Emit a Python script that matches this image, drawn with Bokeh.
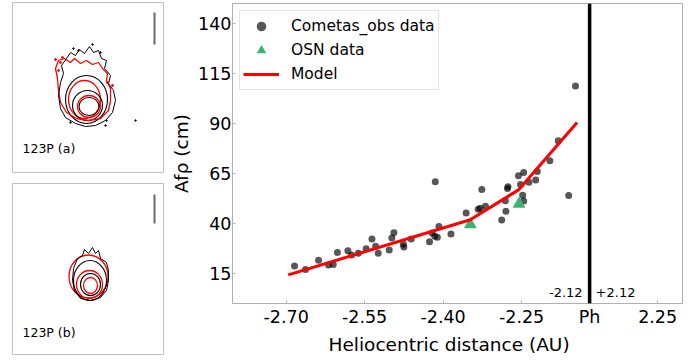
from bokeh.plotting import figure
from bokeh.models import Range1d, FixedTicker, Span, Legend, LegendItem, Label, Title
from bokeh.layouts import row, column
from bokeh.embed import file_html
from bokeh.resources import INLINE
from bokeh.core.properties import value

FONT = "DejaVu Sans"

# ---------------- main chart data ----------------
obs_dist = [-2.684, -2.663, -2.638, -2.619, -2.610, -2.602, -2.582, -2.575, -2.562, -2.547,
            -2.536, -2.529, -2.524, -2.503, -2.498, -2.494, -2.476, -2.475, -2.461, -2.426,
            -2.421, -2.416, -2.411, -2.408, -2.415, -2.385, -2.356, -2.333, -2.319, -2.326,
            -2.288, -2.280, -2.281, -2.276, -2.256, -2.246, -2.252, -2.236, -2.223, -2.220,
            -2.248, -2.246, -2.196, -2.180, -2.160, -2.147, -2.277, -2.329]
obs_afrho = [18.8, 17.0, 21.6, 19.3, 19.5, 25.5, 26.4, 24.2, 25.1, 27.4,
             32.2, 28.6, 25.1, 26.7, 32.8, 35.4, 29.6, 28.2, 32.2, 30.9,
             35.2, 33.6, 33.1, 38.5, 60.9, 34.7, 45.2, 47.1, 48.6, 57.0,
             41.7, 46.1, 51.4, 58.4, 63.9, 65.5, 59.5, 60.6, 61.8, 66.0,
             54.1, 51.2, 71.4, 81.4, 54.0, 108.8, 57.5, 47.6]

osn_dist = [-2.348, -2.255]
osn_afrho = [39.5, 49.7]

model_dist = [-2.696, -2.348, -2.256, -2.144]
model_afrho = [14.3, 41.9, 56.8, 90.5]

perihelion = -2.12
x_tick_values = [-2.70, -2.55, -2.40, -2.25, -2.12, -1.99]
x_tick_labels = ["-2.70", "-2.55", "-2.40", "-2.25", "Ph", "2.25"]
y_tick_values = [15, 40, 65, 90, 115, 140]

# ---------------- contour panels data (image pixel coords) ----------------
a_black_outer_x = [115, 112, 105, 95, 85, 75, 65, 60, 58, 60, 63, 61, 66, 70, 75, 79, 84, 89, 93, 98, 101, 106, 104, 110, 108, 113, 115]
a_black_outer_y = [100, 112, 120, 125, 126, 123, 117, 108, 95, 82, 73, 65, 58, 52, 55, 49, 53, 46, 52, 50, 58, 60, 68, 75, 83, 90, 100]
a_red_outer_x = [110, 108, 100, 88, 76, 66, 60, 58, 57, 55, 58, 64, 70, 74, 80, 86, 92, 98, 102, 107, 106, 110, 110]
a_red_outer_y = [100, 110, 118, 120, 118, 112, 102, 90, 78, 68, 60, 58, 62, 58, 63, 60, 64, 62, 68, 73, 80, 88, 100]
a_black_ell = dict(x=[88.5, 87, 86], y=[106, 105, 99], w=[20, 30, 42], h=[18, 30, 48])
a_red_ell = dict(x=[88.5, 84], y=[106, 99], w=[23, 32], h=[22, 38])
a_red_specks_x = [55, 60, 58, 107, 112, 62]
a_red_specks_y = [59, 62, 70, 82, 85, 57]
a_black_specks_x = [73, 78, 92, 100, 106, 105, 135, 70]
a_black_specks_y = [48, 50, 44, 52, 120, 125, 120, 122]

b_black_outer_x = [108, 106, 100, 90, 80, 74, 72, 73, 77, 82, 84, 88, 92, 95, 98, 100, 106, 108, 108]
b_black_outer_y = [280, 290, 297, 300, 298, 290, 280, 268, 258, 255, 249, 253, 247, 253, 250, 258, 262, 270, 280]
b_black_ell = dict(x=[90, 89.5], y=[284, 280], w=[20, 33], h=[22, 40])
b_red_ell = dict(x=[90, 89, 88], y=[285, 284, 276], w=[14, 26, 39], h=[16, 28, 43])


def make_panel(height, top, bottom, yr, label, label_y, bar_y0, bar_y1,
               black_x, black_y, black_ell, red_ell, red_x=None, red_y=None,
               rs_x=None, rs_y=None, bs_x=None, bs_y=None):
    f = figure(width=168, height=height, x_range=Range1d(12, 163), y_range=Range1d(*yr),
               x_axis_type=None, y_axis_type=None, output_backend="svg",
               toolbar_location=None, min_border_left=12, min_border_right=5,
               min_border_top=top, min_border_bottom=bottom)
    f.outline_line_color = "#bfbfbf"
    f.outline_line_width = 1
    f.background_fill_color = "white"
    f.ellipse(x=red_ell["x"], y=red_ell["y"], width=red_ell["w"], height=red_ell["h"],
              fill_color=None, line_color="red", line_width=1.3)
    f.ellipse(x=black_ell["x"], y=black_ell["y"], width=black_ell["w"], height=black_ell["h"],
              fill_color=None, line_color="black", line_width=1.1)
    if red_x is not None:
        f.line(red_x, red_y, line_color="red", line_width=1.3)
    f.line(black_x, black_y, line_color="black", line_width=1.0)
    if rs_x is not None:
        f.scatter(rs_x, rs_y, size=2, color="red")
    if bs_x is not None:
        f.scatter(bs_x, bs_y, size=1.5, color="black")
    f.segment(x0=[154], y0=[bar_y0], x1=[154], y1=[bar_y1], line_color="#6b6b6b", line_width=2)
    f.text(x=[22], y=[label_y], text=[label], text_font=value(FONT), text_font_size="12.5px",
           text_baseline="middle", text_align="left", text_color="black")
    return f


pa = make_panel(182, 2, 10, (172, 2), "123P (a)", 148, 12, 44,
                a_black_outer_x, a_black_outer_y, a_black_ell, a_red_ell,
                a_red_outer_x, a_red_outer_y, a_red_specks_x, a_red_specks_y,
                a_black_specks_x, a_black_specks_y)
pb = make_panel(174, 1, 2, (354, 183), "123P (b)", 332, 194, 223,
                b_black_outer_x, b_black_outer_y, b_black_ell, b_red_ell)

# ---------------- main figure ----------------
p = figure(width=522, height=356, x_range=Range1d(-2.8025, -1.9425), y_range=Range1d(0, 150),
           output_backend="svg", toolbar_location=None,
           min_border_left=61, min_border_right=8, min_border_top=3, min_border_bottom=52)
p.grid.visible = False
p.outline_line_color = "#b0b0b0"

r_obs = p.scatter(obs_dist, obs_afrho, size=7, fill_color="black", fill_alpha=0.66, line_color=None)
r_osn = p.scatter(osn_dist, osn_afrho, marker="triangle", size=13, fill_color="#3cb371", line_color=None)
r_mod = p.line(model_dist, model_afrho, line_color="red", line_width=3)

p.add_layout(Span(location=perihelion, dimension="height", line_color="black", line_width=3.5))

p.xaxis.ticker = FixedTicker(ticks=x_tick_values)
p.xaxis.major_label_overrides = {v: l for v, l in zip(x_tick_values, x_tick_labels)}
p.yaxis.ticker = FixedTicker(ticks=y_tick_values)
for ax in (p.xaxis, p.yaxis):
    ax.axis_line_color = "#b0b0b0"
    ax.major_tick_line_color = "#b0b0b0"
    ax.major_tick_in = 3
    ax.major_tick_out = 0
    ax.minor_tick_line_color = None
    ax.major_label_text_font = FONT
    ax.major_label_text_font_size = "17.5px"
    ax.major_label_text_color = "black"
p.xaxis.major_label_standoff = 3
p.yaxis.major_label_standoff = 1

p.yaxis.axis_label = "Afρ (cm)"
p.yaxis.axis_label_text_font = FONT
p.yaxis.axis_label_text_font_size = "18.5px"
p.yaxis.axis_label_text_font_style = "normal"
p.yaxis.axis_label_text_color = "black"
p.yaxis.axis_label_standoff = 3

p.add_layout(Title(text="Heliocentric distance (AU)", align="left", offset=96,
                   text_font=FONT, text_font_size="18.5px", text_font_style="normal",
                   text_color="black", standoff=4), "below")

p.add_layout(Label(x=perihelion, y=5.7, text="-2.12", x_offset=-7, text_align="right",
                   text_baseline="middle", text_font=FONT, text_font_size="13px",
                   text_color="black"))
p.add_layout(Label(x=perihelion, y=5.7, text="+2.12", x_offset=6, text_align="left",
                   text_baseline="middle", text_font=FONT, text_font_size="13px",
                   text_color="black"))

legend = Legend(items=[LegendItem(label="Cometas_obs data", renderers=[r_obs]),
                       LegendItem(label="OSN data", renderers=[r_osn]),
                       LegendItem(label="Model", renderers=[r_mod])],
                location="top_left", glyph_height=24, glyph_width=36, label_height=22,
                spacing=0, padding=3, label_standoff=12, margin=7,
                label_text_font=FONT, label_text_font_size="15.5px", label_text_color="black",
                border_line_color="#c8c8c8", background_fill_alpha=1.0)
p.add_layout(legend, "center")

layout = row(column(pa, pb), p)

open("out.html", "w").write(file_html(layout, INLINE))
